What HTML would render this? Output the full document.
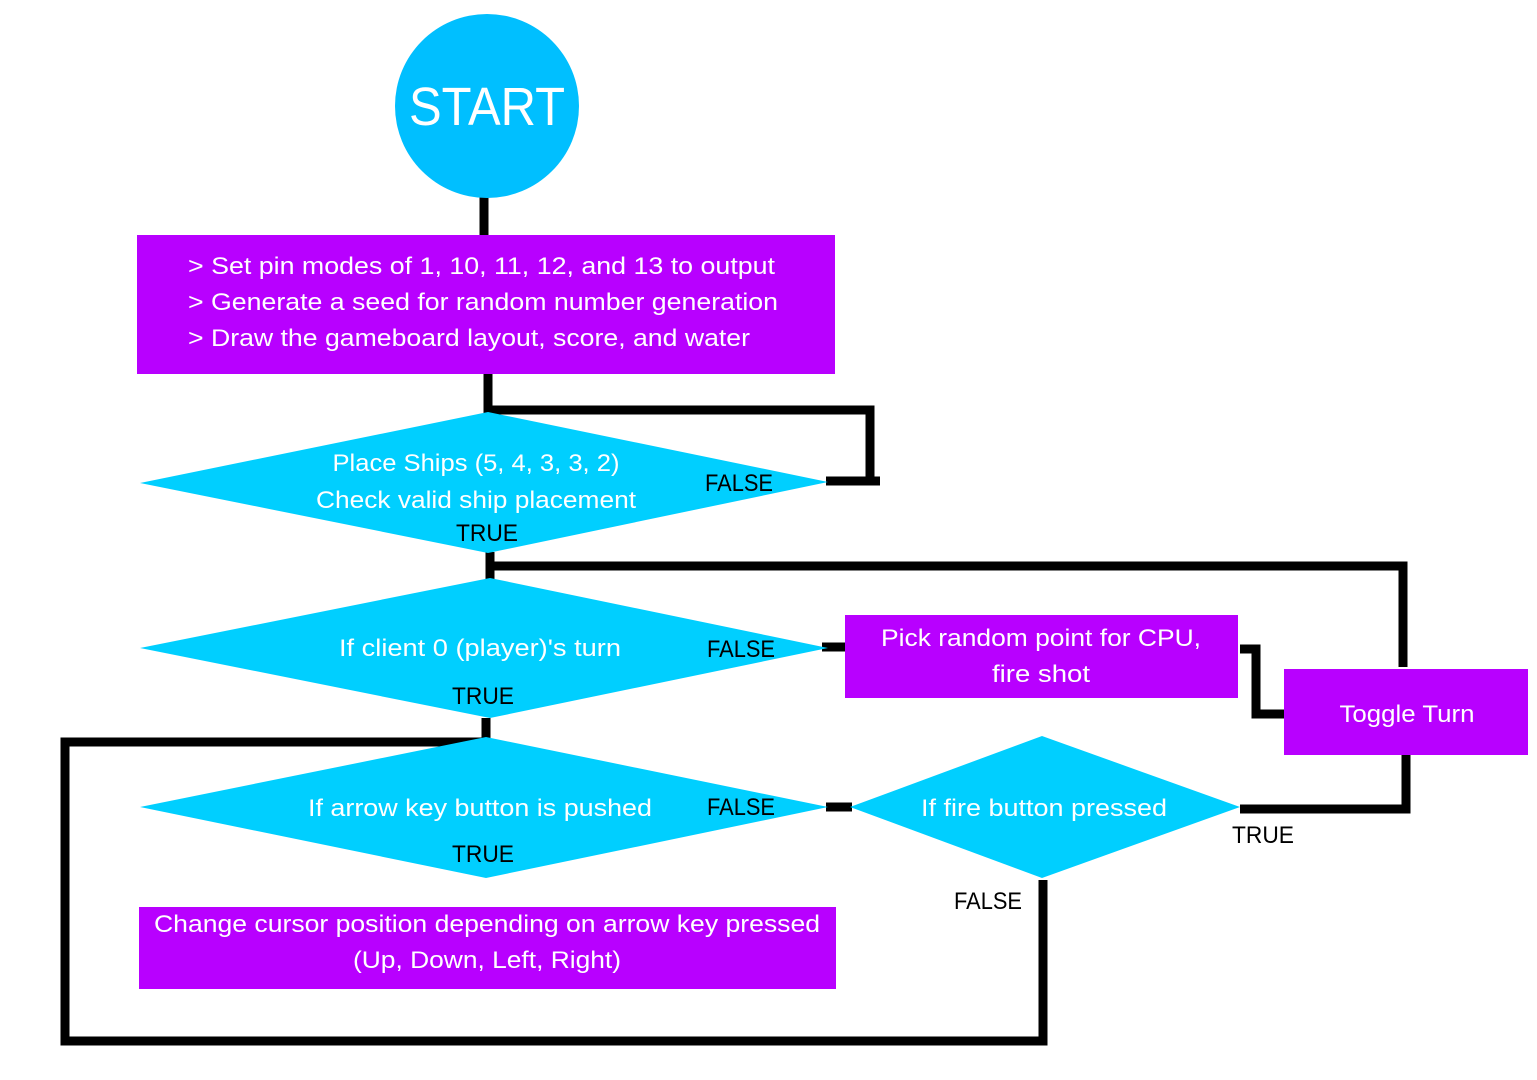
<!DOCTYPE html>
<html><head><meta charset="utf-8"><style>
html,body{margin:0;padding:0;background:#fff;}
svg{display:block;}
text{font-family:"Liberation Sans",sans-serif;}
</style></head><body>
<svg width="1537" height="1080" viewBox="0 0 1537 1080" xmlns="http://www.w3.org/2000/svg">
<rect width="1537" height="1080" fill="#fff"/>
<!-- connectors -->
<g fill="none" stroke="#000" stroke-width="9" stroke-linecap="butt" stroke-linejoin="miter">
<line x1="484" y1="196" x2="484" y2="236"/>
<polyline points="488,373 488,410 870,410 870,481"/>
<line x1="826" y1="481" x2="880" y2="481"/>
<polyline points="490,552 490,566 1403,566 1403,667"/>
<line x1="490" y1="552" x2="490" y2="580"/>
<line x1="822" y1="647" x2="846" y2="647"/>
<polyline points="1240,649 1256,649 1256,714 1284,714"/>
<polyline points="1406,754 1406,809 1240,809"/>
<line x1="826" y1="807" x2="852" y2="807"/>
<polyline points="486,718 486,742 65,742 65,1041 1043,1041 1043,880"/>
</g>
<!-- shapes -->
<circle cx="487" cy="106" r="92" fill="#00BFFF"/>
<rect x="137" y="235" width="698" height="139" fill="#B800FF"/>
<polygon points="140,483 488,412 828,482 488,553" fill="#00CFFF"/>
<polygon points="140,648 490,578 828,648 490,718" fill="#00CFFF"/>
<rect x="845" y="615" width="393" height="83" fill="#B800FF"/>
<rect x="1284" y="669" width="244" height="86" fill="#B800FF"/>
<polygon points="140,807 486,737 828,807 486,878" fill="#00CFFF"/>
<polygon points="850,807 1042,736 1240,807 1042,878" fill="#00CFFF"/>
<rect x="139" y="907" width="697" height="82" fill="#B800FF"/>
<!-- text -->
<g fill="#fff">
<text x="487" y="125" font-size="54" text-anchor="middle" textLength="156" lengthAdjust="spacingAndGlyphs">START</text>
<text x="188" y="274" font-size="24" textLength="587" lengthAdjust="spacingAndGlyphs">&gt; Set pin modes of 1, 10, 11, 12, and 13 to output</text>
<text x="188" y="310" font-size="24" textLength="590" lengthAdjust="spacingAndGlyphs">&gt; Generate a seed for random number generation</text>
<text x="188" y="346" font-size="24" textLength="562" lengthAdjust="spacingAndGlyphs">&gt; Draw the gameboard layout, score, and water</text>
<text x="476" y="471" font-size="24" text-anchor="middle" textLength="287" lengthAdjust="spacingAndGlyphs">Place Ships (5, 4, 3, 3, 2)</text>
<text x="476" y="508" font-size="24" text-anchor="middle" textLength="320" lengthAdjust="spacingAndGlyphs">Check valid ship placement</text>
<text x="480" y="656" font-size="24" text-anchor="middle" textLength="282" lengthAdjust="spacingAndGlyphs">If client 0 (player)'s turn</text>
<text x="1041" y="646" font-size="24" text-anchor="middle" textLength="320" lengthAdjust="spacingAndGlyphs">Pick random point for CPU,</text>
<text x="1041" y="682" font-size="24" text-anchor="middle" textLength="98" lengthAdjust="spacingAndGlyphs">fire shot</text>
<text x="1407" y="722" font-size="24" text-anchor="middle" textLength="135" lengthAdjust="spacingAndGlyphs">Toggle Turn</text>
<text x="480" y="816" font-size="24" text-anchor="middle" textLength="344" lengthAdjust="spacingAndGlyphs">If arrow key button is pushed</text>
<text x="1044" y="816" font-size="24" text-anchor="middle" textLength="246" lengthAdjust="spacingAndGlyphs">If fire button pressed</text>
<text x="487" y="932" font-size="24" text-anchor="middle" textLength="666" lengthAdjust="spacingAndGlyphs">Change cursor position depending on arrow key pressed</text>
<text x="487" y="968" font-size="24" text-anchor="middle" textLength="268" lengthAdjust="spacingAndGlyphs">(Up, Down, Left, Right)</text>
</g>
<g fill="#000" font-size="24">
<text x="705" y="491" textLength="68" lengthAdjust="spacingAndGlyphs">FALSE</text>
<text x="456" y="541" textLength="62" lengthAdjust="spacingAndGlyphs">TRUE</text>
<text x="707" y="657" textLength="68" lengthAdjust="spacingAndGlyphs">FALSE</text>
<text x="452" y="704" textLength="62" lengthAdjust="spacingAndGlyphs">TRUE</text>
<text x="707" y="815" textLength="68" lengthAdjust="spacingAndGlyphs">FALSE</text>
<text x="452" y="862" textLength="62" lengthAdjust="spacingAndGlyphs">TRUE</text>
<text x="1232" y="843" textLength="62" lengthAdjust="spacingAndGlyphs">TRUE</text>
<text x="954" y="909" textLength="68" lengthAdjust="spacingAndGlyphs">FALSE</text>
</g>
</svg>
</body></html>
